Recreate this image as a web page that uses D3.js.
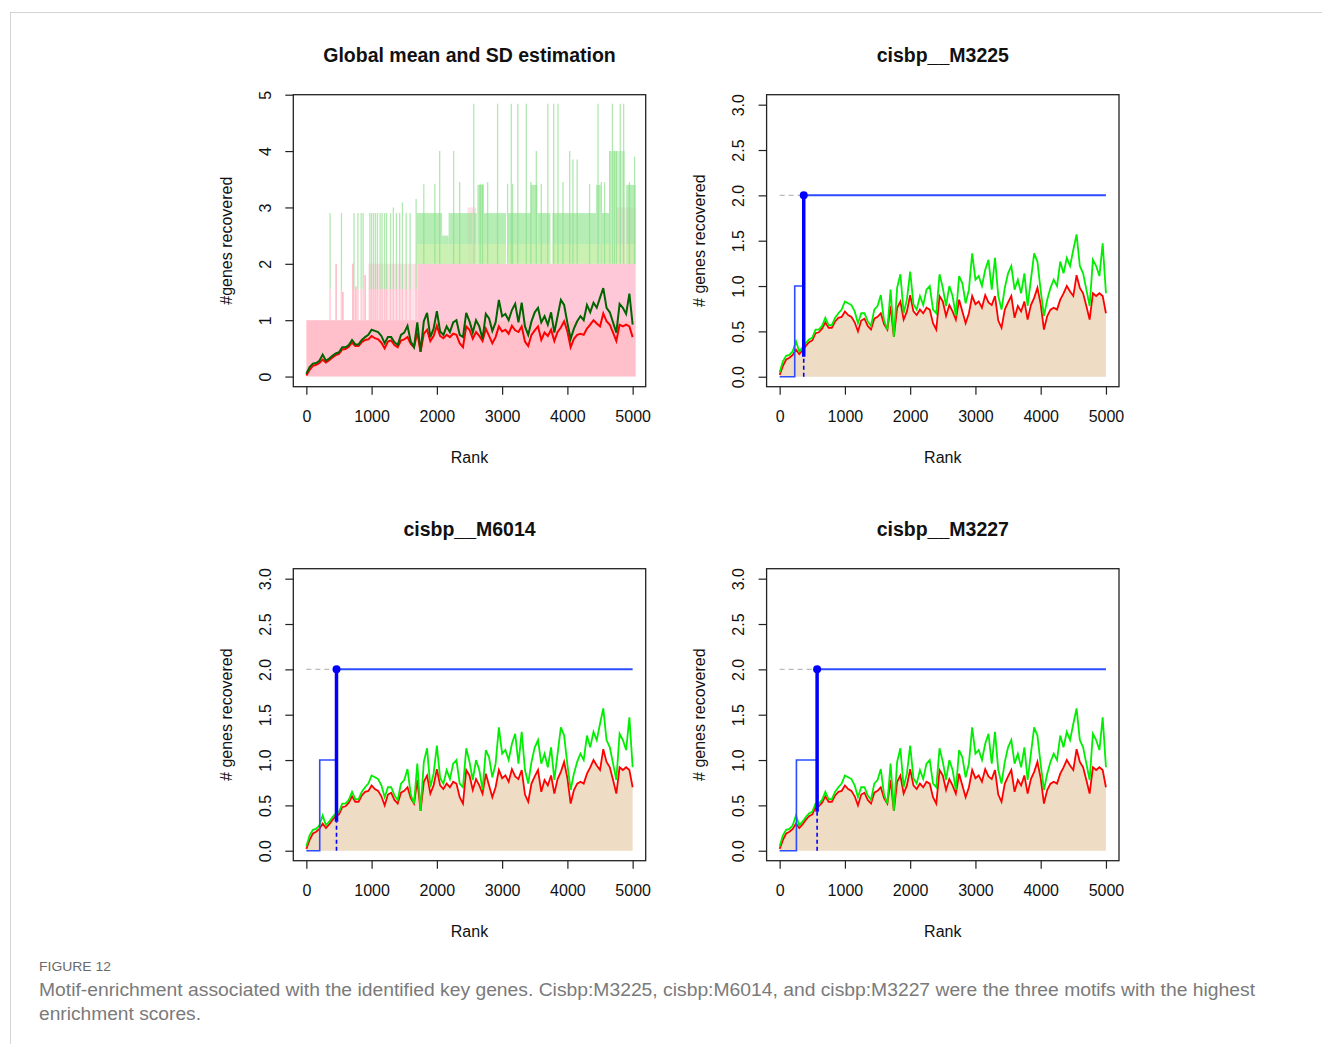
<!DOCTYPE html>
<html>
<head>
<meta charset="utf-8">
<script src="https://cdn.jsdelivr.net/npm/d3@7"></script>
<style>
  body { margin: 0; background: #fff; }
  text { font-family: "Liberation Sans", Arial, sans-serif; }
</style>
</head>
<body>
<script>
// ranks sampled every 50
const ranks = d3.range(0, 5001, 50);

// mean recovery (red)
const meanRec = [
  0.02, 0.12, 0.19, 0.21, 0.24, 0.30, 0.25, 0.29, 0.34, 0.38,
  0.40, 0.48, 0.49, 0.53, 0.60, 0.54, 0.54, 0.61, 0.65, 0.66,
  0.72, 0.68, 0.66, 0.60, 0.50, 0.62, 0.64, 0.56, 0.52, 0.64,
  0.66, 0.70, 0.58, 0.52, 0.78, 0.44, 0.76, 0.83, 0.63, 0.72,
  0.90, 0.72, 0.68, 0.74, 0.70, 0.76, 0.74, 0.59, 0.52, 0.89,
  0.83, 0.67, 0.79, 0.72, 0.63, 0.85, 0.72, 0.59, 0.70, 0.89,
  0.80, 0.83, 0.76, 0.90, 0.82, 0.79, 0.89, 0.62, 0.54, 0.74,
  0.82, 0.89, 0.65, 0.78, 0.72, 0.83, 0.63, 0.79, 0.87, 0.98,
  0.80, 0.52, 0.67, 0.74, 0.76, 0.74, 0.85, 0.92, 1.00, 0.94,
  0.89, 1.12, 0.98, 0.92, 0.78, 0.63, 0.92, 0.89, 0.92, 0.89,
  0.70
];

// mean + sd (green)
const sdRec = [
  0.05, 0.17, 0.23, 0.24, 0.28, 0.39, 0.28, 0.32, 0.37, 0.41,
  0.43, 0.52, 0.52, 0.56, 0.65, 0.57, 0.57, 0.65, 0.70, 0.74,
  0.83, 0.81, 0.79, 0.72, 0.59, 0.70, 0.70, 0.61, 0.56, 0.74,
  0.78, 0.90, 0.62, 0.52, 0.96, 0.44, 0.98, 1.13, 0.70, 0.85,
  1.16, 0.80, 0.74, 0.89, 0.79, 0.96, 1.00, 0.74, 0.70, 1.13,
  0.98, 0.78, 1.00, 0.89, 0.67, 1.11, 1.03, 0.81, 0.96, 1.36,
  1.07, 1.11, 1.00, 1.18, 1.29, 0.96, 1.31, 0.89, 0.74, 0.98,
  1.14, 1.22, 0.96, 1.07, 0.92, 1.14, 0.78, 1.07, 1.36, 1.27,
  0.95, 0.67, 0.85, 0.98, 1.07, 1.00, 1.27, 1.14, 1.31, 1.22,
  1.40, 1.57, 1.22, 1.14, 0.96, 0.78, 1.29, 1.22, 1.11, 1.47,
  0.92
];

const xTicks = [0, 1000, 2000, 3000, 4000, 5000];
const globalTicks = [0, 1, 2, 3, 4, 5];
const motifTicks = [0, 0.5, 1, 1.5, 2, 2.5, 3];

// motifs: name, rank of first hit, rank of second hit, start of thick segment
const motifNames = ["cisbp__M3225", "cisbp__M6014", "cisbp__M3227"];
const firstHit = [231, 205, 257];
const secondHit = [369, 462, 574];
const thickFrom = [0.22, 0.32, 0.43];

// global panel: individual curves as spikes (rank, top)
const spikeRank = [364, 538, 730, 790, 840, 870, 974, 1000, 1030, 1060, 1090, 1130, 1160, 1200, 1230, 1290,
  1333, 1380, 1430, 1472, 1530, 1590, 1682, 1800, 1969, 2043, 2257, 2349, 2565, 2664, 2700, 2778, 2930,
  3084, 3140, 3160, 3240, 3370, 3440, 3524, 3600, 3700, 3790, 3856, 3932, 4035, 4085, 4150, 4340,
  4470, 4520, 4570, 4650, 4690, 4720, 4750, 4810, 4862, 4950, 5030];
const spikeTop = [2.9, 2.9, 2.9, 2.9, 2.9, 2.9, 2.9, 2.9, 2.9, 2.9, 2.9, 2.9, 2.9, 2.9, 2.9, 2.9,
  3.0, 2.9, 2.9, 3.09, 2.9, 2.9, 3.15, 3.42, 3.42, 4.0, 4.0, 3.45, 4.84, 3.42, 3.42, 3.45, 4.84,
  3.42, 4.84, 3.42, 4.84, 4.84, 3.45, 4.0, 3.42, 4.84, 4.84, 4.84, 3.45, 4.0, 3.85, 3.85, 3.42,
  4.84, 3.45, 3.45, 4.0, 4.84, 4.0, 4.0, 4.84, 4.84, 3.45, 3.9];
const pinkSpikeRank = [456, 560, 713, 760, 900];
const pinkSpikeTop = [2.0, 1.5, 2.0, 1.6, 1.8];
// bands: [start, end, top]
const greenBands = [[1690, 2080, 2.9], [2080, 2180, 2.5], [2180, 2550, 2.9], [2570, 2610, 2.9],
  [2620, 2720, 3.4], [2720, 3060, 2.9], [3090, 3440, 2.9], [3440, 3540, 3.4], [3540, 3740, 2.9],
  [3770, 4440, 2.9], [4440, 4510, 3.4], [4530, 4640, 2.9], [4640, 4880, 4.0], [4900, 5046, 3.4]];
const pinkBands = [[950, 1700, 0.5], [1700, 5046, 1]];   // [start, end, opacity] from 1 to 2
const pinkHigh = [[2470, 2600], [4750, 5046]];           // pink from 2 to 3

const svg = d3.select("body").append("svg")
    .attr("width", 1322)
    .attr("height", 1044);

// card border
svg.append("line").attr("x1", 10).attr("x2", 1322).attr("y1", 12.5).attr("y2", 12.5)
    .attr("stroke", "#d4d4d4");
svg.append("line").attr("x1", 10.5).attr("x2", 10.5).attr("y1", 12).attr("y2", 1044)
    .attr("stroke", "#d4d4d4");

const panels = [
  {ox: 0,     oy: 0,   motif: -1},
  {ox: 473.3, oy: 0,   motif: 0},
  {ox: 0,     oy: 474, motif: 1},
  {ox: 473.3, oy: 474, motif: 2}
];

function drawFrame(p, x, y, yTicks, yFmt, title, ylab) {
  let g = svg.append("g");
  let [x0, x1] = x.range();
  let [yb, yt] = y.range();

  let xAxis = g.append("g")
      .attr("transform", `translate(0, ${yb})`)
      .call(d3.axisBottom(x).tickValues(xTicks).tickSize(8).tickPadding(16).tickFormat(d3.format("d")));
  let yAxis = g.append("g")
      .attr("transform", `translate(${x0}, 0)`)
      .call(d3.axisLeft(y).tickValues(yTicks).tickSize(8).tickFormat(yFmt));
  [xAxis, yAxis].forEach(a => {
    a.select(".domain").remove();
    a.selectAll("line").attr("stroke", "#222").attr("stroke-width", 1.2);
    a.selectAll("text").attr("font-size", 16).attr("fill", "#111")
        .attr("font-family", "Liberation Sans, Arial, sans-serif");
  });
  yAxis.selectAll("text")
      .attr("x", 0).attr("y", 0).attr("dy", "0.35em")
      .attr("text-anchor", "middle")
      .attr("transform", "translate(-28,0) rotate(-90)");

  g.append("rect")
      .attr("x", x0).attr("y", yt)
      .attr("width", x1 - x0).attr("height", yb - yt)
      .attr("fill", "none").attr("stroke", "#222").attr("stroke-width", 1.3);

  g.append("text")
      .attr("x", (x0 + x1) / 2).attr("y", 62)
      .attr("transform", `translate(0, ${p.oy})`)
      .attr("text-anchor", "middle")
      .attr("font-size", 19.5).attr("font-weight", "bold").attr("fill", "#111")
      .text(title);
  g.append("text")
      .attr("x", (x0 + x1) / 2).attr("y", 463 + p.oy)
      .attr("text-anchor", "middle")
      .attr("font-size", 16).attr("fill", "#111")
      .text("Rank");
  g.append("text")
      .attr("transform", `translate(${x0 - 67}, ${(yb + yt) / 2}) rotate(-90)`)
      .attr("dy", "0.35em")
      .attr("text-anchor", "middle")
      .attr("font-size", 16).attr("fill", "#111")
      .text(ylab);
}

function seriesLine(x, y) {
  return d3.line()
      .x((d, i) => x(ranks[i]))
      .y(d => y(d));
}

panels.forEach(p => {
  let x = d3.scaleLinear()
      .domain([-200, 5200])
      .range([293.3 + p.ox, 645.7 + p.ox]);

  if (p.motif < 0) {
    let y = d3.scaleLinear()
        .domain([-0.18, 5.0])
        .range([386.7 + p.oy, 94.7 + p.oy]);
    let g = svg.append("g");

    // base pink block
    g.append("rect")
        .attr("x", x(0)).attr("y", y(1))
        .attr("width", x(5046) - x(0)).attr("height", y(0) - y(1))
        .attr("fill", "#FFC0CB");
    pinkBands.forEach(b => {
      g.append("rect")
          .attr("x", x(b[0])).attr("y", y(2))
          .attr("width", x(b[1]) - x(b[0])).attr("height", y(1) - y(2))
          .attr("fill", "#FFC8D8").attr("opacity", b[2]);
    });
    pinkHigh.forEach(b => {
      g.append("rect")
          .attr("x", x(b[0])).attr("y", y(3))
          .attr("width", x(b[1]) - x(b[0])).attr("height", y(2) - y(3))
          .attr("fill", "#FFC8D8").attr("opacity", 0.55);
    });
    pinkSpikeRank.forEach((r, i) => {
      g.append("line")
          .attr("x1", x(r)).attr("x2", x(r))
          .attr("y1", y(1)).attr("y2", y(pinkSpikeTop[i]))
          .attr("stroke", "#FFB8C4").attr("stroke-width", 1.5);
    });
    greenBands.forEach(b => {
      g.append("rect")
          .attr("x", x(b[0])).attr("y", y(b[2]))
          .attr("width", x(b[1]) - x(b[0])).attr("height", y(2) - y(b[2]))
          .attr("fill", "#98E698").attr("opacity", b[2] > 3.5 ? 0.5 : 0.72);
      g.append("rect")
          .attr("x", x(b[0])).attr("y", y(2.35))
          .attr("width", x(b[1]) - x(b[0])).attr("height", y(2) - y(2.35))
          .attr("fill", "#EAF8B0").attr("opacity", 0.4);
    });
    spikeRank.forEach((r, i) => {
      let base = r < 1690 ? 1.55 : 2.0;
      if (r < 1690) {
        g.append("line")
            .attr("x1", x(r)).attr("x2", x(r))
            .attr("y1", y(1)).attr("y2", y(base))
            .attr("stroke", "#FFB8C4").attr("stroke-width", 1.5).attr("opacity", 0.7);
      }
      g.append("line")
          .attr("x1", x(r)).attr("x2", x(r))
          .attr("y1", y(base)).attr("y2", y(spikeTop[i]))
          .attr("stroke", "#88DE88").attr("stroke-width", 1.3).attr("opacity", 0.65);
    });

    g.append("path").datum(meanRec)
        .attr("d", seriesLine(x, y))
        .attr("fill", "none").attr("stroke", "#FF0000").attr("stroke-width", 2);
    g.append("path").datum(sdRec)
        .attr("d", seriesLine(x, y))
        .attr("fill", "none").attr("stroke", "#006400").attr("stroke-width", 2);

    drawFrame(p, x, y, globalTicks, d3.format("d"), "Global mean and SD estimation", "#genes recovered");
  } else {
    let y = d3.scaleLinear()
        .domain([-0.11, 3.11])
        .range([386.7 + p.oy, 94.7 + p.oy]);
    let g = svg.append("g");
    let m = p.motif;

    g.append("path").datum(meanRec)
        .attr("d", d3.area()
            .x((d, i) => x(ranks[i]))
            .y0(y(0))
            .y1(d => y(d)))
        .attr("fill", "#EEDCC4");
    g.append("path").datum(meanRec)
        .attr("d", seriesLine(x, y))
        .attr("fill", "none").attr("stroke", "#FF0000").attr("stroke-width", 1.8);
    g.append("path").datum(sdRec)
        .attr("d", seriesLine(x, y))
        .attr("fill", "none").attr("stroke", "#00EE00").attr("stroke-width", 1.8);

    let line = d3.line().x(d => x(d[0])).y(d => y(d[1]));
    g.append("path")
        .datum([[0, 2], [secondHit[m], 2]])
        .attr("d", line)
        .attr("fill", "none").attr("stroke", "#bbbbbb").attr("stroke-width", 1.2)
        .attr("stroke-dasharray", "5,4");
    g.append("path")
        .datum([[0, 0], [firstHit[m], 0], [firstHit[m], 1], [secondHit[m], 1]])
        .attr("d", line)
        .attr("fill", "none").attr("stroke", "#2B4CFF").attr("stroke-width", 1.6);
    g.append("path")
        .datum([[secondHit[m], 2], [5000, 2]])
        .attr("d", line)
        .attr("fill", "none").attr("stroke", "#2B4CFF").attr("stroke-width", 2);
    g.append("path")
        .datum([[secondHit[m], 0], [secondHit[m], thickFrom[m]]])
        .attr("d", line)
        .attr("fill", "none").attr("stroke", "#0000FF").attr("stroke-width", 1.6)
        .attr("stroke-dasharray", "4,3");
    g.append("path")
        .datum([[secondHit[m], thickFrom[m]], [secondHit[m], 2]])
        .attr("d", line)
        .attr("fill", "none").attr("stroke", "#0000FF").attr("stroke-width", 3.5);
    g.append("circle")
        .attr("cx", x(secondHit[m])).attr("cy", y(2)).attr("r", 4)
        .attr("fill", "#0000FF");

    drawFrame(p, x, y, motifTicks, d3.format(".1f"), motifNames[m], "# genes recovered");
  }
});

// caption
svg.append("text")
    .attr("x", 39).attr("y", 971)
    .attr("font-family", "Noto Sans, sans-serif")
    .attr("font-size", 13).attr("fill", "#6a6a6a")
    .attr("textLength", 72).attr("lengthAdjust", "spacingAndGlyphs")
    .text("FIGURE 12");
svg.append("text")
    .attr("x", 39).attr("y", 996)
    .attr("font-family", "Noto Sans, sans-serif")
    .attr("font-size", 17.5).attr("fill", "#7a7a7a")
    .attr("textLength", 1216).attr("lengthAdjust", "spacingAndGlyphs")
    .text("Motif-enrichment associated with the identified key genes. Cisbp:M3225, cisbp:M6014, and cisbp:M3227 were the three motifs with the highest");
svg.append("text")
    .attr("x", 39).attr("y", 1020)
    .attr("font-family", "Noto Sans, sans-serif")
    .attr("font-size", 17.5).attr("fill", "#7a7a7a")
    .attr("textLength", 162).attr("lengthAdjust", "spacingAndGlyphs")
    .text("enrichment scores.");
</script>
</body>
</html>
